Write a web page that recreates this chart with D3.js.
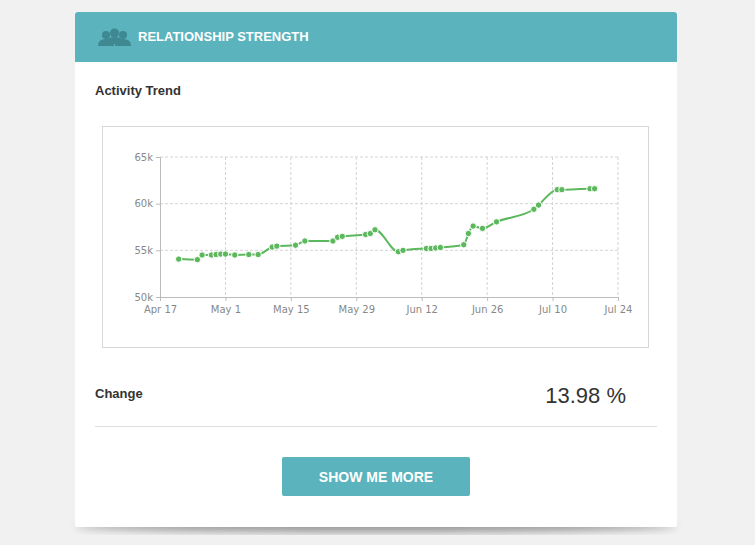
<!DOCTYPE html>
<html><head><meta charset="utf-8">
<script src="https://cdn.jsdelivr.net/npm/d3@7"></script>
<style>
body{margin:0;background:#f1f1f1;font-family:"Liberation Sans",Arial,sans-serif;}
</style></head><body>
<svg id="c" width="755" height="545"></svg>
<script>
const dates=["2023-04-21","2023-04-25","2023-04-26","2023-04-28","2023-04-29","2023-04-30","2023-05-01","2023-05-03","2023-05-06","2023-05-08","2023-05-11","2023-05-12","2023-05-16","2023-05-18","2023-05-24","2023-05-25","2023-05-26","2023-05-31","2023-06-01","2023-06-02","2023-06-07","2023-06-08","2023-06-13","2023-06-14","2023-06-15","2023-06-16","2023-06-21","2023-06-22","2023-06-23","2023-06-25","2023-06-28","2023-07-06","2023-07-07","2023-07-11","2023-07-12","2023-07-18","2023-07-19"];
const values=[54060,54000,54500,54500,54550,54600,54600,54500,54550,54550,55350,55450,55550,56000,56000,56400,56500,56700,56800,57200,54850,55000,55200,55200,55250,55300,55600,56800,57600,57350,58050,59400,59850,61500,61500,61600,61600];
const xTicks=["2023-04-17","2023-05-01","2023-05-15","2023-05-29","2023-06-12","2023-06-26","2023-07-10","2023-07-24"];
const yTicks=[50000,55000,60000,65000];
const title="RELATIONSHIP STRENGTH", sub="Activity Trend", changeLabel="Change", changeValue="13.98 %", button="SHOW ME MORE";

const p=d3.timeParse("%Y-%m-%d");
const data=dates.map((d,i)=>({d:p(d),v:values[i]}));
const svg=d3.select("#c");
const defs=svg.append("defs");
const f=defs.append("filter").attr("id","sh").attr("x","-10%").attr("y","-10%").attr("width","120%").attr("height","130%");
f.append("feGaussianBlur").attr("stdDeviation",4);
svg.append("ellipse").attr("cx",376).attr("cy",526).attr("rx",300).attr("ry",6).attr("fill","#555").attr("opacity",0.6).attr("filter","url(#sh)");
svg.append("rect").attr("x",75).attr("y",12).attr("width",602).attr("height",515).attr("fill","#fff").attr("rx",2);
svg.append("path").attr("d","M75,62V15a3,3 0 0 1 3,-3H674a3,3 0 0 1 3,3V62Z").attr("fill","#5ab3bd");
// icon
const ic=svg.append("g").attr("fill","#3f8891");
[[106,35,4,8],[123,35,4,8],[114.5,33,4.6,9]].forEach(([cx,cy,r,w])=>{
 ic.append("circle").attr("cx",cx).attr("cy",cy).attr("r",r);
 ic.append("path").attr("d",`M${cx-w},${cy+11}Q${cx-w},${cy+4} ${cx},${cy+4}Q${cx+w},${cy+4} ${cx+w},${cy+11}Z`);
});
svg.append("text").attr("x",138).attr("y",41).attr("fill","#fff").attr("font-size",13).attr("font-weight","bold").text(title);
svg.append("text").attr("x",95).attr("y",95).attr("fill","#333").attr("font-size",13).attr("font-weight","bold").text(sub);
svg.append("rect").attr("x",102.5).attr("y",126.5).attr("width",546).attr("height",221).attr("fill","#fff").attr("stroke","#d8d8d8");

const x=d3.scaleTime().domain([p(xTicks[0]),p(xTicks[xTicks.length-1])]).range([160,618]);
const y=d3.scaleLinear().domain([50000,65000]).range([297,157]);
const g=svg.append("g").attr("font-family","DejaVu Sans, sans-serif");
g.append("g").selectAll("line").data(xTicks.slice(1)).join("line").attr("x1",d=>x(p(d))).attr("x2",d=>x(p(d))).attr("y1",157).attr("y2",297).attr("stroke","#d4d4d4").attr("stroke-dasharray","3,2");
g.append("g").selectAll("line").data(yTicks.slice(1)).join("line").attr("y1",d=>y(d)).attr("y2",d=>y(d)).attr("x1",160).attr("x2",618).attr("stroke","#d4d4d4").attr("stroke-dasharray","3,2");
const xa=g.append("g").attr("transform","translate(0,297)").call(d3.axisBottom(x).tickValues(xTicks.map(p)).tickFormat(d3.timeFormat("%b %-d")).tickSize(4));
const ya=g.append("g").attr("transform","translate(160,0)").call(d3.axisLeft(y).tickValues(yTicks).tickFormat(d=>d/1000+"k").tickSize(4));
[xa,ya].forEach(a=>{a.selectAll("path,line").attr("stroke","#bbb");a.selectAll("text").attr("fill","#888").attr("font-size",10).attr("font-family","DejaVu Sans, sans-serif");});
xa.selectAll("text").attr("dy","0.9em");
const line=d3.line().x(d=>x(d.d)).y(d=>y(d.v)).curve(d3.curveMonotoneX);
g.append("path").datum(data).attr("d",line).attr("fill","none").attr("stroke","#5cb85c").attr("stroke-width",2);
g.selectAll("circle.pt").data(data).join("circle").attr("class","pt").attr("cx",d=>x(d.d)).attr("cy",d=>y(d.v)).attr("r",3.2).attr("fill","#5cb85c").attr("stroke","#fff").attr("stroke-width",1);

svg.append("text").attr("x",95).attr("y",398).attr("fill","#333").attr("font-size",13).attr("font-weight","bold").text(changeLabel);
svg.append("text").attr("x",626).attr("y",403).attr("text-anchor","end").attr("fill","#333").attr("font-size",22).text(changeValue);
svg.append("line").attr("x1",95).attr("x2",657).attr("y1",426.5).attr("y2",426.5).attr("stroke","#ddd");
svg.append("rect").attr("x",282).attr("y",457).attr("width",188).attr("height",39).attr("fill","#5ab3bd").attr("rx",2);
svg.append("text").attr("x",376).attr("y",481.5).attr("text-anchor","middle").attr("fill","#fff").attr("font-size",14).attr("font-weight","bold").text(button);
</script></body></html>
